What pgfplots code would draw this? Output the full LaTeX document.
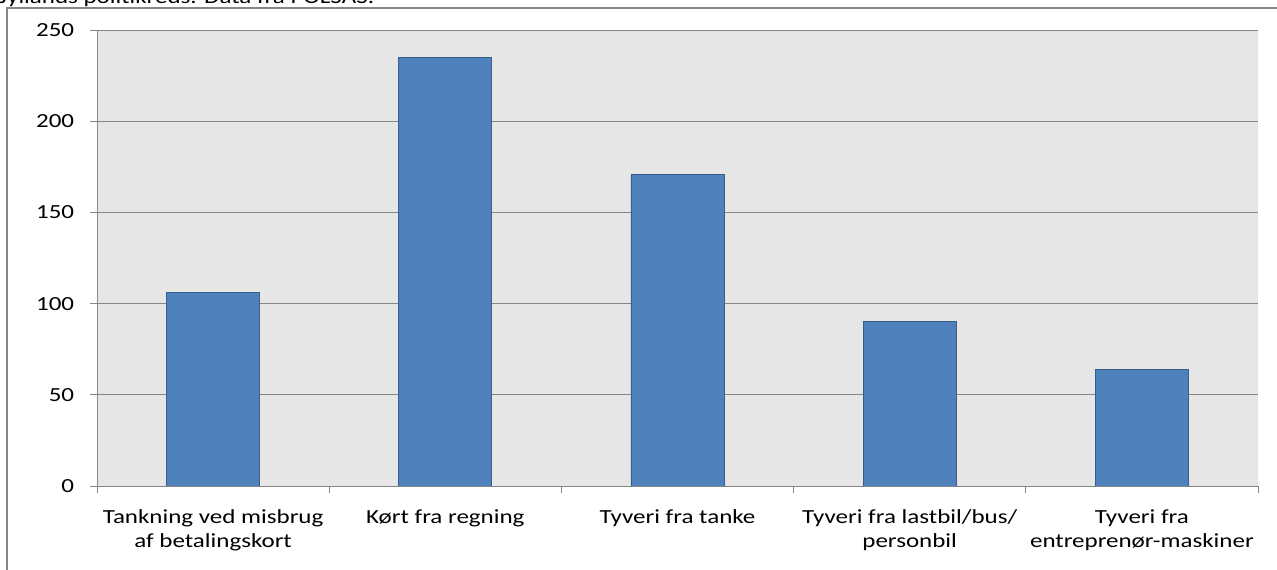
\documentclass[border=0pt]{standalone}
\usepackage{pgfplots}
\pgfplotsset{compat=1.18}
\usepackage{fontspec}
\setmainfont{Carlito}[FakeStretch=1.25]
\definecolor{barfill}{RGB}{79,129,189}
\definecolor{baredge}{RGB}{56,93,138}
\definecolor{plotbg}{RGB}{230,230,230}
\definecolor{gridc}{RGB}{134,134,134}
\begin{document}
\fontsize{20}{24}\selectfont
\begin{tikzpicture}
\useasboundingbox (0pt,0pt) rectangle (1277pt,570pt);
\node[anchor=base west, inner sep=0pt, font=\fontsize{20}{24}\selectfont] at (-1pt,566pt) {Jyllands politikreds. Data fra POLSAS.};
\draw[gridc, line width=2pt] (7pt,-5pt) -- (7pt,562pt) -- (1285pt,562pt);
\begin{axis}[
  at={(97pt,84pt)}, anchor=south west, scale only axis,
  width=1161pt, height=456pt,
  xmin=-0.5, xmax=4.5, ymin=0, ymax=250,
  axis background/.style={fill=plotbg},
  axis x line*=bottom, axis y line*=left,
  ytick={0,50,...,250},
  ymajorgrids, grid style={gridc, line width=0.8pt},
  axis line style={gridc, line width=0.8pt},
  tick style={gridc, line width=0.8pt},
  tick align=outside,
  major tick length=7pt,
  xtick={-0.5,0.5,...,4.5}, xticklabels={},
  /pgf/number format/assume math mode=true,
  tick label style={font=\fontsize{20}{24}\selectfont, text=black},
  yticklabel style={xshift=-9pt},
  extra x ticks={0,1,2,3,4},
  extra x tick labels={{Tankning ved misbrug\\af betalingskort},{Kørt fra regning},{Tyveri fra tanke},{Tyveri fra lastbil/bus/\\personbil},{Tyveri fra\\entreprenør-maskiner}},
  extra x tick style={major tick length=0pt, xticklabel style={align=center, yshift=-17pt}},
]
\addplot[ybar, bar width=93pt, fill=barfill, draw=baredge, line width=0.8pt]
  coordinates {(0,106) (1,235) (2,171) (3,90) (4,64)};
\end{axis}
\end{tikzpicture}
\end{document}
